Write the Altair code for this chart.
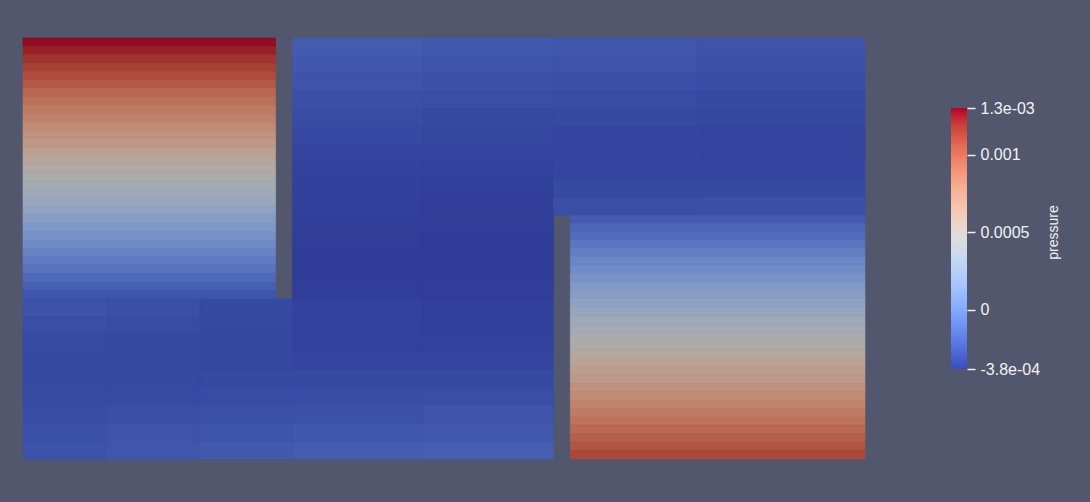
import altair as alt
import pandas as pd

# ---------------- data (pressure in units of 1e-4) ----------------
UNIT = 1e-4
P_MIN = -3.8e-4
P_MAX = 1.3e-3

# inlet block (x 0..0.6, y 0.38..1.0), 0.02-high rows, listed top -> bottom
LEFT_ROWS = [12.8, 12.3, 11.8, 11.3, 10.8, 10.3, 9.7, 9.2, 8.7, 8.2,
             7.7, 7.2, 6.7, 6.1, 5.6, 5.1, 4.6, 4.1, 3.6, 3.1,
             2.6, 2.0, 1.5, 1.0, 0.5, 0.0, -0.5, -1.0, -1.5, -2.0, -2.5]

# outlet block (x 1.3..2.0, y 0..0.58), 0.02-high rows, listed top -> bottom
RIGHT_ROWS = [-2.2, -1.7, -1.3, -0.8, -0.3, 0.2, 0.6, 1.1, 1.6, 2.0,
              2.5, 3.0, 3.4, 3.9, 4.4, 4.9, 5.3, 5.8, 6.3, 6.7,
              7.2, 7.7, 8.1, 8.6, 9.1, 9.6, 10.0, 10.5, 11.0]

# channel region, cells between these edges (rows listed top -> bottom)
BLUE_X_EDGES = [0.0, 0.2, 0.42, 0.64, 0.95, 1.26, 1.6, 2.0]
BLUE_Y_EDGES = [1.0, 0.958, 0.916, 0.874, 0.832, 0.79, 0.748, 0.706, 0.664, 0.622,
                0.58, 0.54, 0.50, 0.46, 0.42, 0.38,
                0.338, 0.296, 0.253, 0.211, 0.169, 0.127, 0.084, 0.042, 0.0]
N = None
BLUE_ROWS = [
    [N, N, N, -2.25, -2.35, -2.5, -2.65],
    [N, N, N, -2.45, -2.55, -2.65, -2.8],
    [N, N, N, -2.65, -2.75, -2.85, -2.95],
    [N, N, N, -2.85, -2.9, -3.0, -3.1],
    [N, N, N, -3.0, -3.1, -3.15, -3.25],
    [N, N, N, -3.15, -3.25, -3.3, -3.35],
    [N, N, N, -3.3, -3.35, -3.35, -3.35],
    [N, N, N, -3.4, -3.45, -3.3, -3.3],
    [N, N, N, -3.5, -3.55, -3.15, -3.1],
    [N, N, N, -3.55, -3.6, -2.9, -2.85],
    [N, N, N, -3.6, -3.65, N, N],
    [N, N, N, -3.65, -3.7, N, N],
    [N, N, N, -3.7, -3.7, N, N],
    [N, N, N, -3.7, -3.7, N, N],
    [N, N, N, -3.65, -3.65, N, N],
    [-2.7, -2.85, -3.1, -3.45, -3.55, N, N],
    [-2.9, -3.0, -3.2, -3.45, -3.5, N, N],
    [-3.05, -3.1, -3.25, -3.4, -3.4, N, N],
    [-3.1, -3.15, -3.25, -3.3, -3.3, N, N],
    [-3.1, -3.15, -3.15, -3.15, -3.1, N, N],
    [-3.05, -3.05, -3.0, -2.95, -2.9, N, N],
    [-2.95, -2.85, -2.8, -2.75, -2.65, N, N],
    [-2.8, -2.65, -2.55, -2.45, -2.35, N, N],
    [-2.7, -2.5, -2.35, -2.2, -2.1, N, N],
]

TICK_VALUES = [1.3e-3, 1e-3, 5e-4, 0.0, -3.8e-4]
TICK_LABELS = ["1.3e-03", "0.001", "0.0005", "0", "-3.8e-04"]

# Cool to Warm colour map (position 0..1, rgb)
CMAP_T = [0.0, 0.0625, 0.125, 0.1875, 0.25, 0.3125, 0.375, 0.4375, 0.5,
          0.5625, 0.625, 0.6875, 0.75, 0.8125, 0.875, 0.9375, 1.0]
CMAP_RGB = [(59, 76, 192), (77, 104, 215), (98, 130, 234), (119, 154, 247),
            (141, 176, 254), (163, 194, 255), (184, 208, 249), (204, 217, 238),
            (221, 221, 221), (236, 211, 197), (245, 196, 173), (247, 177, 148),
            (244, 154, 123), (236, 127, 99), (222, 96, 77), (203, 62, 56),
            (180, 4, 38)]

# ---------------- geometry / style ----------------
CELL = 0.02
LEFT_X = (0.0, 0.6)
LEFT_TOP = 1.0
RIGHT_X = (1.3, 2.0)
RIGHT_TOP = 0.58
SHADE = 0.78
BG = "#52576E"
TXT = "#F2F2F2"

PLOT_W, PLOT_H = 944, 421
FIELD_W = 842
XMAX = 2.0 * PLOT_W / FIELD_W
# colour bar: P_MAX at 70 px, P_MIN at 331 px from top of plot
CB_TOP, CB_BOT = 70.0, 331.0
span = (P_MAX - P_MIN) * PLOT_H / (CB_BOT - CB_TOP)
CB_DMAX = P_MAX + CB_TOP / PLOT_H * span
CB_DMIN = CB_DMAX - span


def hexc(rgb, k=1.0):
    return "#" + "".join(f"{int(round(c * k)):02x}" for c in rgb)


recs = []
for i, p in enumerate(LEFT_ROWS):
    top = LEFT_TOP - i * CELL
    recs.append(dict(x0=LEFT_X[0], x1=LEFT_X[1], y0=top - CELL, y1=top, p=p * UNIT))
for i, p in enumerate(RIGHT_ROWS):
    top = RIGHT_TOP - i * CELL
    recs.append(dict(x0=RIGHT_X[0], x1=RIGHT_X[1], y0=top - CELL, y1=top, p=p * UNIT))
for ri, row in enumerate(BLUE_ROWS):
    for ci, p in enumerate(row):
        if p is None:
            continue
        recs.append(dict(x0=BLUE_X_EDGES[ci], x1=BLUE_X_EDGES[ci + 1],
                         y0=BLUE_Y_EDGES[ri + 1], y1=BLUE_Y_EDGES[ri], p=p * UNIT))
df = pd.DataFrame(recs)

dom = [P_MIN + t * (P_MAX - P_MIN) for t in CMAP_T]
rng = [hexc(c, SHADE) for c in CMAP_RGB]


def fscale():
    return alt.Scale(domain=dom, range=rng, interpolate="rgb", clamp=True)


field = alt.Chart(df).mark_rect(strokeWidth=0.6).encode(
    x=alt.X("x0:Q", scale=alt.Scale(domain=[0, XMAX], nice=False, zero=False), axis=None),
    x2="x1:Q",
    y=alt.Y("y0:Q", scale=alt.Scale(domain=[0, 1], nice=False, zero=False), axis=None),
    y2="y1:Q",
    color=alt.Color("p:Q", scale=fscale(), legend=None),
    stroke=alt.Stroke("p:Q", scale=fscale(), legend=None),
)

label_expr = "''"
for v, lab in reversed(list(zip(TICK_VALUES, TICK_LABELS))):
    label_expr = f"abs(datum.value - ({v})) < 1e-7 ? '{lab}' : {label_expr}"

grad = alt.Gradient(
    gradient="linear",
    stops=[alt.GradientStop(offset=t, color=hexc(c)) for t, c in zip(CMAP_T, CMAP_RGB)],
    x1=0, x2=0, y1=1, y2=0,
)

bar = alt.Chart(alt.Data(values=[{"k": 0}])).mark_rect(fill=grad).encode(
    x=alt.value(PLOT_W - 16),
    x2=alt.value(PLOT_W),
    y=alt.YDatum(
        datum=P_MIN, type="quantitative",
        scale=alt.Scale(domain=[CB_DMIN, CB_DMAX], nice=False, zero=False),
        axis=alt.Axis(
            orient="right", values=TICK_VALUES, labelExpr=label_expr,
            domain=False, grid=False, ticks=True, tickSize=8, tickWidth=1.5,
            tickColor=TXT, labelColor=TXT, labelFont="Liberation Sans",
            labelFontSize=16, labelPadding=5, labelAlign="left",
            title="pressure", titleAngle=270, titleX=86, titleY=194,
            titleAlign="center", titleBaseline="middle", titleColor=TXT,
            titleFont="Liberation Sans", titleFontSize=14, titleFontWeight="normal",
        ),
    ),
    y2=alt.datum(P_MAX),
)

chart = alt.layer(field, bar).resolve_scale(y="independent").properties(
    width=PLOT_W, height=PLOT_H,
    padding={"left": 23, "top": 38, "right": 1090 - 23 - PLOT_W, "bottom": 502 - 38 - PLOT_H},
    autosize=alt.AutoSizeParams(type="none"),
    background=BG,
).configure_view(strokeWidth=0)

chart.save("out.html", embed_options={"renderer": "svg", "actions": False})
